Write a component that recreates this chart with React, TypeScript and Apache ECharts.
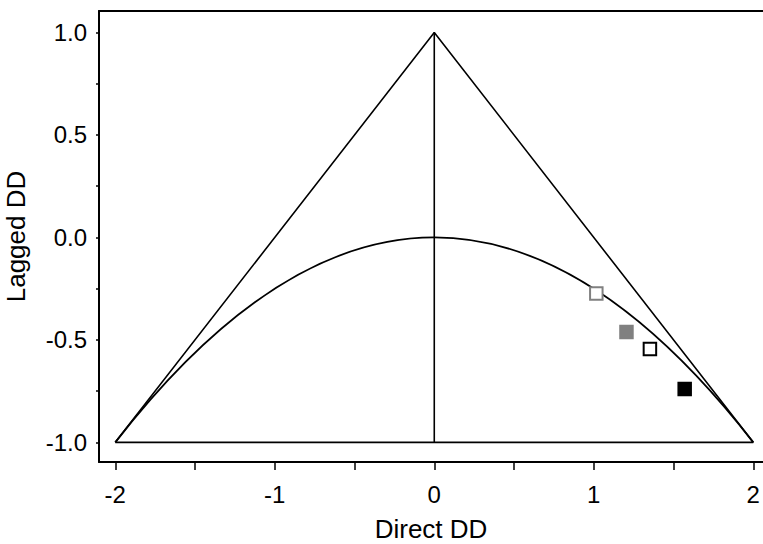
import React, { useEffect, useRef } from "react";
import * as echarts from "echarts";

// Axis ranges and ticks
const xRange = [-2.102, 2.061];
const yRange = [-1.096, 1.105];
const xTickValues = [-2, -1.5, -1, -0.5, 0, 0.5, 1, 1.5, 2];
const xLabelValues = [-2, -1, 0, 1, 2];
const yTickValues = [-1, -0.75, -0.5, -0.25, 0, 0.25, 0.5, 0.75, 1];
const yLabelValues = [-1, -0.5, 0, 0.5, 1];

// Stability triangle and dividing line
const triangle = [[-2, -1], [0, 1], [2, -1], [-2, -1]];
const verticalLine = [[0, -1], [0, 1]];
// Parabola y = -x^2/4 drawn as quadratic Bezier with these control points
const curveStart = [-2, -1];
const curveControl = [0, 1];
const curveEnd = [2, -1];

// Estimated points
const pointsX = [1.016, 1.205, 1.352, 1.57];
const pointsY = [-0.274, -0.462, -0.545, -0.74];
const pointFill = ["#ffffff", "#808080", "#ffffff", "#000000"];
const pointBorder = ["#808080", "#808080", "#000000", "#000000"];

const FONT = "'Liberation Sans', Arial, sans-serif";

export default function App() {
  const ref = useRef<HTMLDivElement>(null);
  useEffect(() => {
    if (!ref.current) return;
    const chart = echarts.init(ref.current, undefined, { renderer: "svg" });
    const scatterData = pointsX.map((x, i) => ({
      value: [x, pointsY[i]],
      itemStyle: {
        color: pointFill[i],
        borderColor: pointBorder[i],
        borderWidth: 2,
        opacity: 1,
      },
    }));
    chart.setOption({
      animation: false,
      backgroundColor: "#ffffff",
      textStyle: { fontFamily: FONT },
      grid: {
        left: 99,
        right: 0,
        top: 11,
        bottom: 82,
        containLabel: false,
        outerBoundsMode: "none",
      },
      xAxis: [
        {
          type: "value",
          position: "bottom",
          min: xRange[0],
          max: xRange[1],
          name: "Direct DD",
          nameLocation: "middle",
          nameGap: 54,
          nameTextStyle: { fontSize: 26, color: "#000", fontFamily: FONT },
          axisLine: { show: true, onZero: false, lineStyle: { color: "#000", width: 2 } },
          axisTick: {
            show: true,
            length: 8,
            customValues: xTickValues,
            lineStyle: { color: "#000", width: 1.5 },
          },
          axisLabel: {
            customValues: xLabelValues,
            formatter: (v: number) => String(v),
            fontSize: 24,
            color: "#000",
            margin: 20,
            fontFamily: FONT,
          },
          splitLine: { show: false },
        },
        {
          type: "value",
          position: "top",
          min: xRange[0],
          max: xRange[1],
          axisLine: { show: true, onZero: false, lineStyle: { color: "#000", width: 2 } },
          axisTick: { show: false },
          axisLabel: { show: false },
          splitLine: { show: false },
        },
      ],
      yAxis: {
        type: "value",
        min: yRange[0],
        max: yRange[1],
        name: "Lagged DD",
        nameLocation: "middle",
        nameGap: 70,
        nameTextStyle: { fontSize: 26, color: "#000", fontFamily: FONT },
        axisLine: { show: true, onZero: false, lineStyle: { color: "#000", width: 2 } },
        axisTick: {
          show: true,
          length: 3,
          customValues: yTickValues,
          lineStyle: { color: "#000", width: 1.5 },
        },
        axisLabel: {
          customValues: yLabelValues,
          formatter: (v: number) => v.toFixed(1),
          fontSize: 24,
          color: "#000",
          margin: 12,
          fontFamily: FONT,
        },
        splitLine: { show: false },
      },
      series: [
        {
          type: "line",
          data: triangle,
          symbol: "none",
          lineStyle: { color: "#000", width: 1.6 },
          silent: true,
        },
        {
          type: "line",
          data: verticalLine,
          symbol: "none",
          lineStyle: { color: "#000", width: 1.6 },
          silent: true,
        },
        {
          type: "custom",
          data: [[0, 0]],
          silent: true,
          renderItem: (_params: any, api: any) => {
            const p0 = api.coord(curveStart);
            const c = api.coord(curveControl);
            const p2 = api.coord(curveEnd);
            return {
              type: "bezierCurve",
              shape: { x1: p0[0], y1: p0[1], x2: p2[0], y2: p2[1], cpx1: c[0], cpy1: c[1] },
              style: { stroke: "#000", lineWidth: 1.8, fill: null },
            };
          },
        },
        {
          type: "scatter",
          symbol: "rect",
          symbolSize: 12.5,
          data: scatterData,
          itemStyle: { opacity: 1 },
          z: 5,
        },
      ],
    });
    return () => chart.dispose();
  }, []);
  return (
    <div
      ref={ref}
      style={{ position: "fixed", left: 0, top: 0, width: 763, height: 544 }}
    />
  );
}
